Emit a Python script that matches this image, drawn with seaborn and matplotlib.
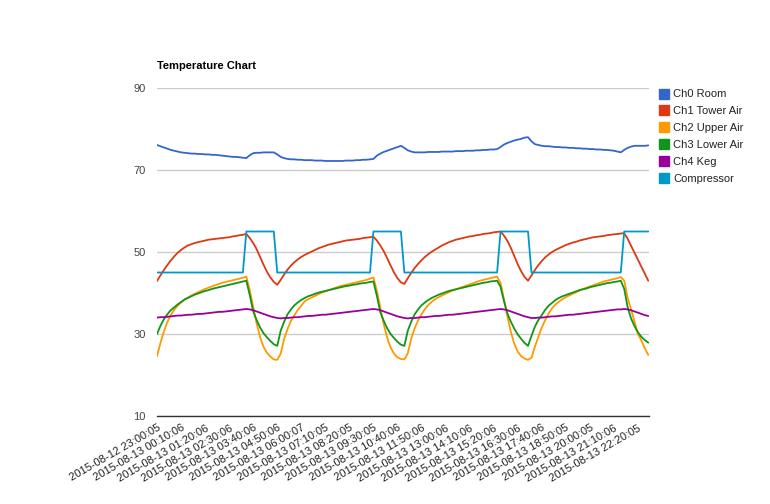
import numpy as np
import pandas as pd
import matplotlib
matplotlib.use("Agg")
import matplotlib.pyplot as plt
from matplotlib.lines import Line2D
import seaborn as sns

tick_labels = [
    "2015-08-12 23:00:05", "2015-08-13 00:10:06", "2015-08-13 01:20:06",
    "2015-08-13 02:30:06", "2015-08-13 03:40:06", "2015-08-13 04:50:06",
    "2015-08-13 06:00:07", "2015-08-13 07:10:05", "2015-08-13 08:20:05",
    "2015-08-13 09:30:05", "2015-08-13 10:40:06", "2015-08-13 11:50:06",
    "2015-08-13 13:00:06", "2015-08-13 14:10:06", "2015-08-13 15:20:06",
    "2015-08-13 16:30:06", "2015-08-13 17:40:06", "2015-08-13 18:50:05",
    "2015-08-13 20:00:05", "2015-08-13 21:10:06", "2015-08-13 22:20:05",
]

series_names = ["Ch0 Room", "Ch1 Tower Air", "Ch2 Upper Air",
                "Ch3 Lower Air", "Ch4 Keg", "Compressor"]
series_colors = ["#3366cc", "#dc3912", "#ff9900", "#109618", "#990099", "#0099c6"]

# readings every 10 minutes, starting 2015-08-12 23:00:05
ch0_room = [
    76.1, 75.8, 75.5, 75.2, 74.9, 74.7, 74.5, 74.3, 74.2, 74.1, 74.0, 74.0, 73.9, 73.9,
    73.8, 73.8, 73.7, 73.7, 73.6, 73.5, 73.4, 73.3, 73.2, 73.2, 73.1, 73.0, 72.9,
    73.6, 74.1, 74.2, 74.2, 74.3, 74.3, 74.3, 74.3, 73.8, 73.2,
    72.9, 72.7, 72.6, 72.6, 72.5, 72.5, 72.4, 72.4, 72.4, 72.3, 72.3, 72.3, 72.2, 72.2,
    72.2, 72.2, 72.2, 72.2, 72.3, 72.3, 72.3, 72.4, 72.4, 72.5, 72.5, 72.6, 72.7,
    73.5, 74.0, 74.4, 74.7, 75.0, 75.3, 75.6, 75.9, 75.4, 74.8, 74.5, 74.3, 74.3,
    74.3, 74.3, 74.4, 74.4, 74.4, 74.4, 74.5, 74.5, 74.5, 74.5, 74.6, 74.6, 74.6, 74.7,
    74.7, 74.7, 74.8, 74.8, 74.9, 74.9, 75.0, 75.0, 75.1,
    75.6, 76.2, 76.6, 76.9, 77.2, 77.4, 77.6, 77.9, 78.0, 77.0, 76.3, 76.1, 75.9,
    75.8, 75.8, 75.7, 75.6, 75.6, 75.5, 75.5, 75.4, 75.4, 75.3, 75.3, 75.2, 75.2, 75.1,
    75.1, 75.0, 75.0, 74.9, 74.9, 74.8, 74.7, 74.5, 74.3,
    74.9, 75.4, 75.7, 75.9, 75.9, 75.9, 75.9, 76.0,
]
ch1_tower_air = [
    42.9, 44.3, 45.6, 46.8, 47.9, 48.9, 49.8, 50.5, 51.1, 51.6, 51.9, 52.2, 52.4, 52.6,
    52.8, 53.0, 53.1, 53.2, 53.3, 53.4, 53.5, 53.6, 53.8, 53.9, 54.1, 54.2, 54.4,
    53.4, 52.2, 50.7, 48.8, 46.9, 45.2, 43.8, 42.7, 42.0,
    43.2, 44.5, 45.7, 46.7, 47.5, 48.2, 48.8, 49.3, 49.7, 50.1, 50.5, 50.9, 51.2, 51.5,
    51.8, 52.0, 52.2, 52.4, 52.6, 52.8, 52.9, 53.0, 53.1, 53.2, 53.4, 53.5, 53.6,
    53.7,
    52.8, 51.6, 50.2, 48.5, 46.7, 45.0, 43.6, 42.6, 42.2,
    43.6, 44.9, 46.1, 47.1, 48.0, 48.8, 49.5, 50.1, 50.6, 51.1, 51.6, 52.0, 52.4, 52.7,
    53.0, 53.2, 53.4, 53.6, 53.8, 53.9, 54.1, 54.2, 54.4, 54.5, 54.6, 54.8, 54.9,
    55.0,
    54.0, 52.7, 51.0, 49.0, 47.0, 45.3, 43.9, 43.0,
    44.3, 45.6, 46.8, 47.8, 48.7, 49.4, 50.0, 50.5, 50.9, 51.3, 51.7, 52.0, 52.3, 52.5,
    52.8, 53.0, 53.2, 53.4, 53.6, 53.7, 53.8, 53.9, 54.1, 54.2, 54.3, 54.4, 54.5,
    54.6,
    53.2, 51.5, 49.8, 48.1, 46.4, 44.7, 43.0,
]
ch2_upper_air = [
    24.6, 27.8, 30.6, 32.9, 34.6, 35.9, 36.9, 37.7, 38.4, 38.9, 39.4, 39.8, 40.2, 40.6,
    41.0, 41.3, 41.6, 41.9, 42.2, 42.5, 42.7, 42.9, 43.1, 43.3, 43.5, 43.7, 44.0,
    40.7, 36.7, 32.6, 29.3, 26.9, 25.4, 24.5, 23.8,
    23.7, 25.2, 28.8, 31.2, 33.2, 34.6, 35.9, 36.9, 38.0, 38.5, 38.9, 39.3, 39.7, 40.1,
    40.4, 40.7, 41.0, 41.3, 41.6, 41.8, 42.0, 42.2, 42.4, 42.6, 42.8, 43.0, 43.2, 43.5,
    43.8,
    40.5, 36.5, 32.4, 29.1, 26.7, 25.2, 24.3, 23.9, 23.8,
    25.3, 28.9, 31.4, 33.3, 34.8, 36.1, 37.1, 37.9, 38.5, 39.0, 39.4, 39.8, 40.2, 40.6,
    40.9, 41.2, 41.5, 41.8, 42.1, 42.4, 42.7, 43.0, 43.2, 43.4, 43.6, 43.8, 44.0,
    42.5, 38.5, 34.3, 30.5, 27.6, 25.7, 24.6, 24.0, 23.7,
    24.2, 26.9, 29.3, 31.6, 33.4, 35.0, 36.3, 37.2, 37.9, 38.5, 39.0, 39.4, 39.8, 40.2,
    40.6, 41.0, 41.3, 41.6, 41.9, 42.2,
    42.5, 42.8, 43.0, 43.2, 43.4, 43.6, 43.9,
    43.0, 38.8, 36.0, 33.0, 30.0, 28.4, 26.5, 24.9,
]
ch3_lower_air = [
    30.0, 32.0, 33.6, 34.8, 35.8, 36.5, 37.2, 37.8, 38.4, 38.8, 39.2, 39.6, 39.9, 40.2,
    40.5, 40.7, 41.0, 41.2, 41.4, 41.6, 41.8, 42.0, 42.2, 42.4, 42.6, 42.8, 43.0,
    39.5, 35.5, 33.4, 31.6, 30.2, 29.2, 28.3, 27.5, 27.1,
    30.8, 33.0, 34.8, 36.0, 37.0, 37.7, 38.3, 38.8, 39.2, 39.5, 39.8, 40.1, 40.3, 40.5,
    40.7, 40.9, 41.1, 41.3, 41.5, 41.7, 41.8, 42.0, 42.1, 42.3, 42.4, 42.5, 42.7, 42.8,
    39.3, 35.3, 33.2, 31.4, 30.0, 29.0, 28.1, 27.4, 27.1,
    30.8, 33.0, 34.8, 36.0, 37.0, 37.7, 38.3, 38.8, 39.2, 39.6, 39.9, 40.2, 40.5, 40.7,
    40.9, 41.1, 41.3, 41.5, 41.7, 41.9, 42.1, 42.3, 42.5, 42.6, 42.8, 42.9, 43.0,
    41.5, 38.0, 35.0, 33.0, 31.3, 29.9, 28.8, 27.8, 27.1,
    29.5, 31.8, 33.4, 34.6, 35.9, 36.9, 37.6, 38.3, 38.8, 39.2, 39.5, 39.8, 40.1, 40.4,
    40.7, 40.9, 41.1, 41.4, 41.6, 41.8, 42.0, 42.2, 42.4, 42.5, 42.7, 42.8, 43.0,
    41.0, 36.5, 33.8, 31.9, 30.4, 29.3, 28.5, 27.9,
]
ch4_keg = [
    34.0, 34.1, 34.1, 34.2, 34.3, 34.4, 34.5, 34.5, 34.6, 34.7, 34.7, 34.8, 34.9, 34.9,
    35.0, 35.1, 35.2, 35.3, 35.4, 35.4, 35.5, 35.6, 35.7, 35.8, 35.9, 36.0, 36.1,
    36.0, 35.8, 35.5, 35.2, 34.9, 34.6, 34.3, 34.1, 33.9, 33.8,
    33.9, 33.9, 34.0, 34.1, 34.1, 34.2, 34.3, 34.4, 34.4, 34.5, 34.6, 34.7, 34.7, 34.8,
    34.9, 35.0, 35.1, 35.2, 35.3, 35.4, 35.5, 35.6, 35.7, 35.8, 35.9, 36.0, 36.1,
    36.0, 35.8, 35.5, 35.2, 34.9, 34.6, 34.3, 34.1, 33.9, 33.8,
    33.9, 33.9, 34.0, 34.1, 34.1, 34.2, 34.3, 34.4, 34.4, 34.5, 34.6, 34.7, 34.7, 34.8,
    34.9, 35.0, 35.1, 35.2, 35.3, 35.4, 35.5, 35.6, 35.7, 35.8, 35.9, 36.0, 36.1,
    36.0, 35.8, 35.5, 35.2, 34.9, 34.6, 34.3, 34.1, 33.9, 33.9,
    34.0, 34.0, 34.1, 34.2, 34.3, 34.3, 34.4, 34.5, 34.6, 34.7, 34.7, 34.8, 34.9, 35.0,
    35.1, 35.2, 35.3, 35.4, 35.5, 35.6, 35.7, 35.8, 35.9, 36.0, 36.0, 36.1,
    36.0, 35.8, 35.5, 35.2, 34.9, 34.6, 34.4,
]
compressor = ([45] * 26 + [55] * 9 + [45] * 28 + [55] * 9 +
              [45] * 28 + [55] * 9 + [45] * 27 + [55] * 8)

all_series = [ch0_room, ch1_tower_air, ch2_upper_air, ch3_lower_air, ch4_keg, compressor]

frames = []
for name, vals in zip(series_names, all_series):
    frames.append(pd.DataFrame({"step": np.arange(len(vals)), "value": vals, "series": name}))
df = pd.concat(frames, ignore_index=True)

sns.set_style("white")
plt.rcParams["font.family"] = ["Liberation Sans", "DejaVu Sans"]

W, H = 770, 504
fig = plt.figure(figsize=(W / 100, H / 100), dpi=100)
ax = fig.add_axes([157 / W, 1 - 416 / H, (649.3 - 157) / W, (416 - 88) / H])

sns.lineplot(data=df, x="step", y="value", hue="series", hue_order=series_names,
             palette=dict(zip(series_names, series_colors)), linewidth=1.3,
             estimator=None, sort=False, legend=False, ax=ax)

ax.set_xlim(0, 143.3)
ax.set_ylim(10, 90)
ax.set_yticks([10, 30, 50, 70, 90])
ax.set_yticklabels(["10", "30", "50", "70", "90"])
n_ticks = len(tick_labels)
ax.set_xticks(np.arange(n_ticks) * 7)
ax.set_xticklabels(tick_labels, rotation=30, ha="right", rotation_mode="anchor")
ax.set_xlabel("")
ax.set_ylabel("")

ax.yaxis.grid(True, color="#cccccc", linewidth=1)
ax.xaxis.grid(False)
ax.set_axisbelow(True)
for s in ["top", "right", "left"]:
    ax.spines[s].set_visible(False)
ax.spines["bottom"].set_color("#333333")
ax.spines["bottom"].set_linewidth(1)
ax.tick_params(axis="y", length=0, labelsize=8, labelcolor="#444444", pad=8)
ax.tick_params(axis="x", length=0, labelsize=8, labelcolor="#222222", pad=5)

fig.text(157 / W, 1 - 66 / H, "Temperature Chart", fontsize=8, fontweight="bold",
         color="#000000", ha="left", va="center")

handles = [Line2D([], [], marker="s", linestyle="", markersize=7,
                  markerfacecolor=c, markeredgecolor=c) for c in series_colors]
fig.legend(handles, series_names, loc="upper left",
           bbox_to_anchor=(653 / W, 1 - 85 / H), frameon=False, fontsize=8,
           labelspacing=0.62, handletextpad=0.2, handlelength=1.2,
           borderaxespad=0, labelcolor="#222222")

fig.savefig("out.png", dpi=100)
